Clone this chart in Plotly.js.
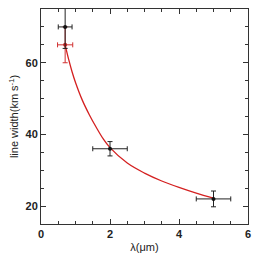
<!DOCTYPE html>
<html>
<head>
<meta charset="utf-8">
<script src="https://cdn.plot.ly/plotly-3.0.1.min.js"></script>
<style>html,body{margin:0;padding:0;background:#fff;}#chart{width:255px;height:254px;}</style>
</head>
<body>
<div id="chart"></div>
<script>
// Black data points
const blackX = [0.7, 2.0, 5.0];
const blackY = [70, 36, 22];
const blackXErr = [0.2, 0.5, 0.5];
const blackYErr = [6, 2, 2.2];
// Red data point
const redX = [0.7];
const redY = [65];
const redXErr = [0.22];
const redYErr = [5];
// Red fitted curve
const curveX = [0.7, 0.8, 0.9, 1.0, 1.2, 1.4, 1.6, 1.8, 2.0, 2.5, 3.0, 3.5, 4.0, 4.5, 5.0];
const curveY = [65, 61, 57.5, 54.5, 49.5, 45.5, 42, 38.8, 36.3, 32, 29.2, 27, 25.2, 23.6, 22.2];

const font = {family: 'Liberation Sans, Arial, sans-serif', size: 11, color: '#222'};

const traces = [
  {x: curveX, y: curveY, mode: 'lines', line: {color: '#d42020', width: 1.3, shape: 'spline'}, hoverinfo: 'skip'},
  {x: redX, y: redY, mode: 'markers', marker: {color: '#c42020', size: 4},
   error_x: {type: 'data', array: redXErr, color: '#d03030', thickness: 1, width: 2.5},
   error_y: {type: 'data', array: redYErr, color: '#d03030', thickness: 1, width: 2.5}},
  {x: blackX, y: blackY, mode: 'markers', marker: {color: '#111', size: 4},
   error_x: {type: 'data', array: blackXErr, color: '#222', thickness: 1, width: 2.5},
   error_y: {type: 'data', array: blackYErr, color: '#222', thickness: 1, width: 2.5}}
];

const axisCommon = {
  showgrid: false, zeroline: false, showline: true, linecolor: '#333', linewidth: 1,
  mirror: 'allticks', ticks: 'inside', ticklen: 5, tickcolor: '#333', tickwidth: 1,
  tickfont: {family: 'Liberation Sans, Arial, sans-serif', size: 11, color: '#222', weight: 'bold'}
};

const layout = {
  width: 255, height: 254,
  margin: {l: 41, r: 7, t: 9, b: 30},
  paper_bgcolor: '#fff', plot_bgcolor: '#fff',
  showlegend: false,
  font: font,
  xaxis: Object.assign({}, axisCommon, {
    range: [0, 6], dtick: 2, tick0: 0,
    minor: {dtick: 0.5, ticks: 'inside', ticklen: 3, tickcolor: '#333'},
    title: {text: 'λ(μm)', font: {family: 'Liberation Sans, Arial, sans-serif', size: 11, color: '#222'}, standoff: 4}
  }),
  yaxis: Object.assign({}, axisCommon, {
    range: [15, 75], dtick: 20, tick0: 0,
    minor: {dtick: 5, ticks: 'inside', ticklen: 3, tickcolor: '#333'},
    title: {text: 'line width(km s<sup>-1</sup>)', font: {family: 'Liberation Sans, Arial, sans-serif', size: 11, color: '#222'}, standoff: 4}
  })
};

Plotly.newPlot('chart', traces, layout, {displayModeBar: false, staticPlot: true});
</script>
</body>
</html>
